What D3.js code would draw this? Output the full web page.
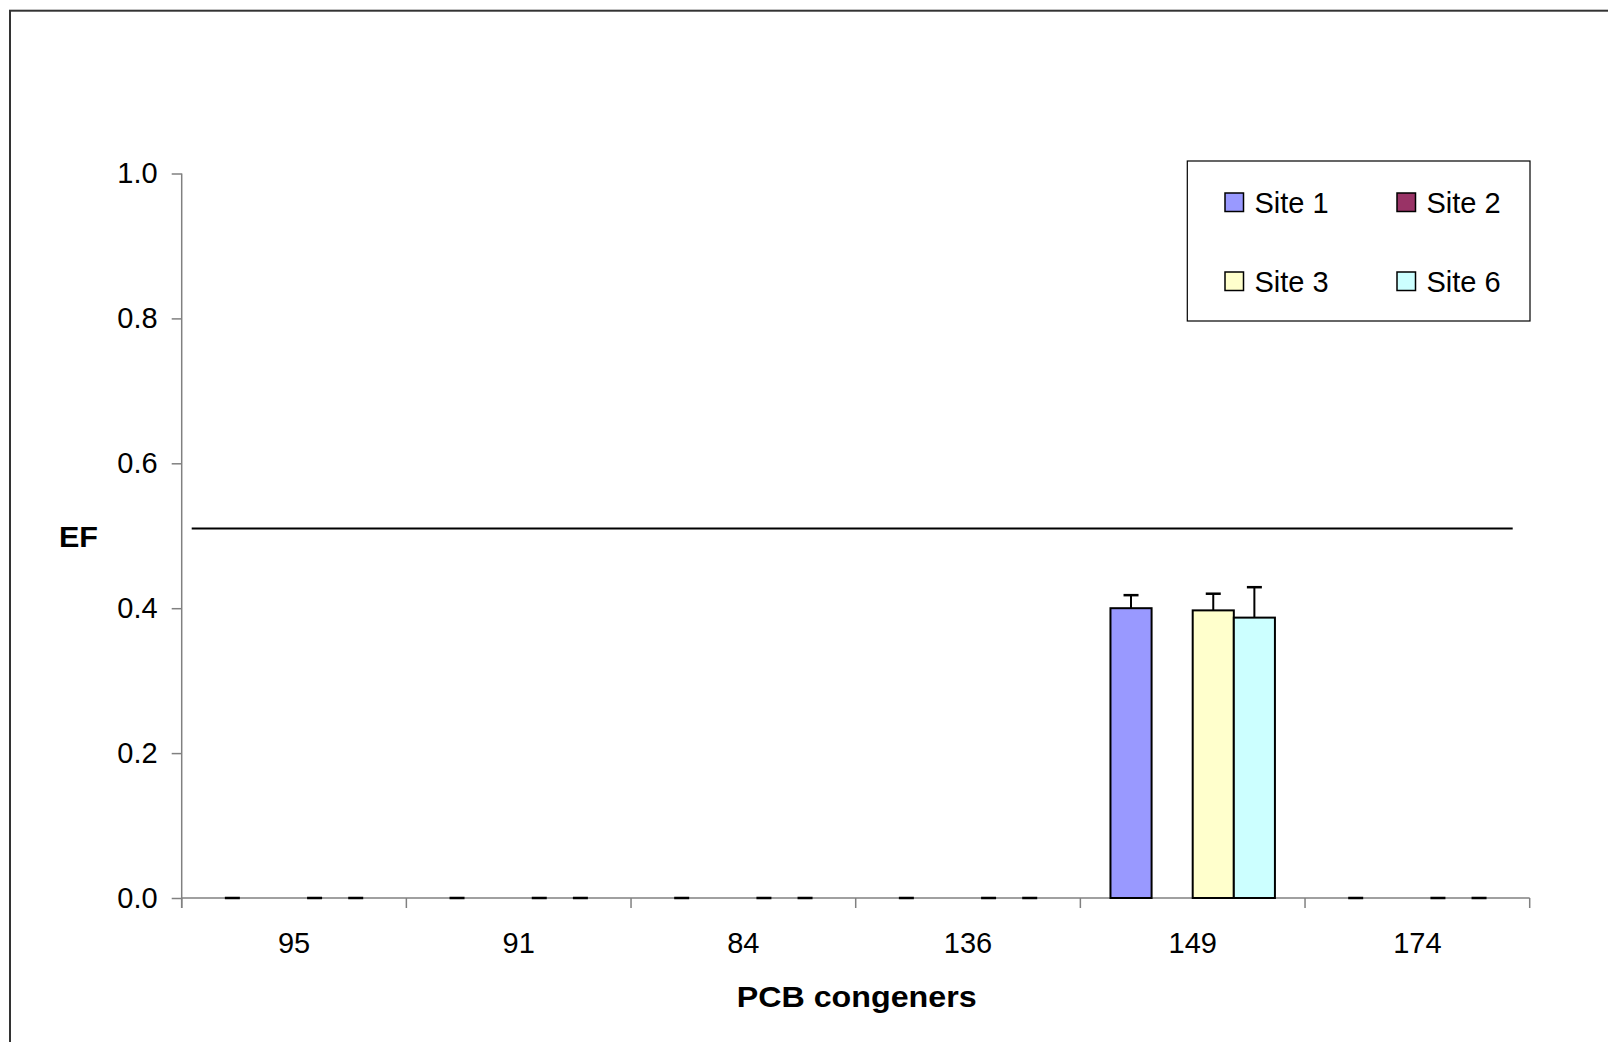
<!DOCTYPE html>
<html>
<head>
<meta charset="utf-8">
<script src="https://cdn.jsdelivr.net/npm/d3@7"></script>
<style>
  html, body { margin: 0; padding: 0; background: #fff; }
  svg { display: block; }
  text { font-family: "Liberation Sans", Arial, sans-serif; fill: #000; }
</style>
</head>
<body>
<svg id="chart" width="1608" height="1042"></svg>
<script>
// ---- data ----
const categories = ["95", "91", "84", "136", "149", "174"];
const seriesNames = ["Site 1", "Site 2", "Site 3", "Site 6"];
const seriesColors = ["#9999FF", "#993366", "#FFFFCC", "#CCFFFF"];
// null = no value for that site
const site1 = [0, 0, 0, 0, 0.400, 0];
const site2 = [null, null, null, null, null, null];
const site3 = [0, 0, 0, 0, 0.397, 0];
const site6 = [0, 0, 0, 0, 0.387, 0];
const site1Err = [0, 0, 0, 0, 0.018, 0];
const site2Err = [null, null, null, null, null, null];
const site3Err = [0, 0, 0, 0, 0.023, 0];
const site6Err = [0, 0, 0, 0, 0.042, 0];
const yTicks = [0.0, 0.2, 0.4, 0.6, 0.8, 1.0];
const referenceValue = 0.51;
const yTitle = "EF";
const xTitle = "PCB congeners";

const seriesValues = [site1, site2, site3, site6];
const seriesErrors = [site1Err, site2Err, site3Err, site6Err];

(function () {
// ---- layout ----
const svg = d3.select("#chart");
const pl = 181.7, pr = 1529.7, pt = 173.5, pb = 898;

const x = d3.scaleBand().domain(categories).range([pl, pr]).paddingInner(0).paddingOuter(0);
const groupPad = 30.1;
const xs = d3.scaleBand().domain(seriesNames)
  .range([groupPad, x.bandwidth() - groupPad]).padding(0);
const y = d3.scaleLinear().domain([0, 1]).range([pb, pt]);

// outer border (extends past the right/bottom edges)
svg.append("rect")
  .attr("x", 10).attr("y", 10.7).attr("width", 1700).attr("height", 1200)
  .attr("fill", "none").attr("stroke", "#333").attr("stroke-width", 2);

// y axis
const yAxis = d3.axisLeft(y).tickValues(yTicks).tickFormat(d3.format(".1f"))
  .tickSize(10).tickPadding(14);
const gy = svg.append("g").attr("transform", `translate(${pl},0)`).call(yAxis);
gy.select(".domain").attr("stroke", "#808080").attr("stroke-width", 1.5)
  .attr("d", `M0,${pt}V${pb + 10}`);
gy.selectAll(".tick line").attr("stroke", "#808080").attr("stroke-width", 1.5);
gy.selectAll(".tick text").attr("font-size", 29).attr("font-family", "Liberation Sans, Arial, sans-serif")
  .attr("fill", "#000");

// x axis
const xAxis = d3.axisBottom(x).tickSize(0).tickPadding(34);
const gx = svg.append("g").attr("transform", `translate(0,${pb})`).call(xAxis);
gx.select(".domain").attr("stroke", "#808080").attr("stroke-width", 1.5)
  .attr("d", `M${pl},0H${pr}`);
gx.selectAll(".tick text").attr("font-size", 29).attr("font-family", "Liberation Sans, Arial, sans-serif")
  .attr("fill", "#000").attr("dy", "0.71em");
// category separator ticks
const boundaries = categories.map(c => x(c)).concat([pr]);
gx.selectAll(".sep").data(boundaries).join("line").attr("class", "sep")
  .attr("x1", d => d).attr("x2", d => d).attr("y1", 0).attr("y2", 10)
  .attr("stroke", "#808080").attr("stroke-width", 1.5);

// bars
const barData = [];
seriesNames.forEach((s, si) => {
  categories.forEach((c, ci) => {
    const v = seriesValues[si][ci];
    if (v !== null) barData.push({ s, si, c, v, e: seriesErrors[si][ci] });
  });
});

svg.append("g").selectAll("rect").data(barData.filter(d => d.v > 0)).join("rect")
  .attr("x", d => x(d.c) + xs(d.s))
  .attr("y", d => y(d.v))
  .attr("width", xs.bandwidth())
  .attr("height", d => y(0) - y(d.v))
  .attr("fill", d => seriesColors[d.si])
  .attr("stroke", "#000").attr("stroke-width", 2);

// error bars (plus-direction with caps)
const cap = 7.5;
const eg = svg.append("g");
eg.selectAll("line.stem").data(barData.filter(d => d.e > 0)).join("line").attr("class", "stem")
  .attr("x1", d => x(d.c) + xs(d.s) + xs.bandwidth() / 2)
  .attr("x2", d => x(d.c) + xs(d.s) + xs.bandwidth() / 2)
  .attr("y1", d => y(d.v)).attr("y2", d => y(d.v + d.e))
  .attr("stroke", "#000").attr("stroke-width", 2);
eg.selectAll("line.cap").data(barData).join("line").attr("class", "cap")
  .attr("x1", d => x(d.c) + xs(d.s) + xs.bandwidth() / 2 - cap)
  .attr("x2", d => x(d.c) + xs(d.s) + xs.bandwidth() / 2 + cap)
  .attr("y1", d => y(d.v + d.e)).attr("y2", d => y(d.v + d.e))
  .attr("stroke", "#000").attr("stroke-width", 2.5);

// reference line
svg.append("line")
  .attr("x1", 191.7).attr("x2", 1512.7)
  .attr("y1", y(referenceValue)).attr("y2", y(referenceValue))
  .attr("stroke", "#000").attr("stroke-width", 2);

// axis titles
svg.append("text").attr("x", 59).attr("y", 546.5)
  .attr("font-size", 30).attr("font-weight", "bold")
  .attr("textLength", 39).attr("lengthAdjust", "spacingAndGlyphs").text(yTitle);
svg.append("text").attr("x", 736.7).attr("y", 1006.5)
  .attr("font-size", 30).attr("font-weight", "bold")
  .attr("textLength", 240).attr("lengthAdjust", "spacingAndGlyphs").text(xTitle);

// legend
const lg = svg.append("g");
lg.append("rect").attr("x", 1187.3).attr("y", 161).attr("width", 342.7).attr("height", 160)
  .attr("fill", "#fff").attr("stroke", "#000").attr("stroke-width", 1.2);
const legPos = [[1225, 193], [1397, 193], [1225, 272], [1397, 272]];
seriesNames.forEach((s, i) => {
  const [lx, ly] = legPos[i];
  lg.append("rect").attr("x", lx).attr("y", ly).attr("width", 18.5).attr("height", 18.5)
    .attr("fill", seriesColors[i]).attr("stroke", "#000").attr("stroke-width", 1.5);
  lg.append("text").attr("x", lx + 29.5).attr("y", ly + 19.5)
    .attr("font-size", 29).text(s);
});
})();
</script>
</body>
</html>
